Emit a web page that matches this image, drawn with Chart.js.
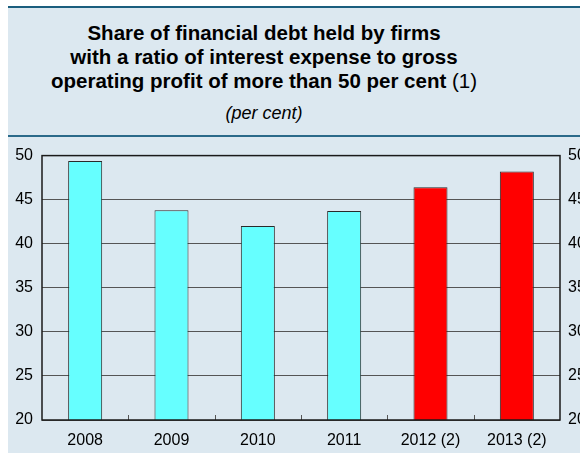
<!DOCTYPE html>
<html>
<head>
<meta charset="utf-8">
<script src="https://cdn.jsdelivr.net/npm/chart.js@4.4.0/dist/chart.umd.min.js"></script>
<style>
  html, body { margin: 0; padding: 0; background: #ffffff; }
  body { width: 580px; height: 453px; overflow: hidden; position: relative; font-family: "Liberation Sans", Arial, sans-serif; }
  #panel { position: absolute; left: 8px; top: 6px; width: 620px; height: 460px; background: #dce8f0; }
  #head { position: absolute; left: 0; top: 0; width: 620px; height: 127px; border-top: 2px solid #1b5e7e; border-bottom: 2px solid #2b6a8a; }
  #title { position: absolute; left: 0; top: 13px; width: 512px; text-align: center; font-weight: bold; font-size: 20.5px; line-height: 24px; color: #000; }
  #title span { font-weight: normal; }
  #sub { position: absolute; left: 0; top: 95px; width: 512px; text-align: center; font-style: italic; font-size: 18px; line-height: 20px; color: #000; }
  #wrap { position: absolute; left: 8px; top: 137px; }
</style>
</head>
<body>
<div id="panel">
  <div id="head">
    <div id="title">Share of financial debt held by firms<br>with a ratio of interest expense to gross<br>operating profit of more than 50 per cent <span>(1)</span></div>
    <div id="sub">(per cent)</div>
  </div>
</div>
<div id="wrap"><canvas id="chart" width="620" height="316"></canvas></div>
<script>
// years, share values and bar colours
const years = ["2008", "2009", "2010", "2011", "2012 (2)", "2013 (2)"];
const shares = [49.4, 43.8, 42.0, 43.7, 46.4, 48.2];
const barColors = ["#66ffff", "#66ffff", "#66ffff", "#66ffff", "#ff0000", "#ff0000"];
const yMin = 20, yMax = 50, yStep = 5;

const tickFont = { family: "Liberation Sans, Arial, sans-serif", size: 16 };

// frame round the plot and small inward ticks between categories
const framePlugin = {
  id: "frame",
  afterDatasetsDraw(chart) {
    const ctx = chart.ctx, a = chart.chartArea, x = chart.scales.x;
    ctx.save();
    ctx.strokeStyle = "#555";
    ctx.lineWidth = 1;
    for (let i = 0; i < years.length - 1; i++) {
      const px = Math.round((x.getPixelForTick(i) + x.getPixelForTick(i + 1)) / 2) + 0.5;
      ctx.beginPath();
      ctx.moveTo(px, a.bottom);
      ctx.lineTo(px, a.bottom - 5);
      ctx.stroke();
    }
    ctx.strokeStyle = "#1a1a1a";
    ctx.lineWidth = 1.5;
    ctx.strokeRect(a.left, a.top, a.right - a.left, a.bottom - a.top);
    ctx.restore();
  }
};

new Chart(document.getElementById("chart"), {
  type: "bar",
  data: {
    labels: years,
    datasets: [{
      data: shares,
      backgroundColor: barColors,
      borderColor: "#2a2a2a",
      borderWidth: 1,
      categoryPercentage: 1,
      barPercentage: 0.394
    }]
  },
  options: {
    responsive: false,
    animation: false,
    layout: { padding: { top: 18, right: 28, bottom: 0, left: 0 } },
    plugins: { legend: { display: false }, tooltip: { enabled: false } },
    scales: {
      x: {
        grid: { display: false },
        border: { display: false },
        ticks: { color: "#000", font: tickFont, padding: 3, maxRotation: 0 },
        afterFit(s) { s.height = 33; }
      },
      y: {
        position: "left",
        min: yMin, max: yMax,
        ticks: { stepSize: yStep, color: "#000", font: tickFont, padding: 9 },
        grid: { color: "#555", lineWidth: 1, drawTicks: false },
        border: { display: false },
        afterFit(s) { s.width = 34; }
      },
      y2: {
        position: "right",
        min: yMin, max: yMax,
        ticks: { stepSize: yStep, color: "#000", font: tickFont, padding: 8 },
        grid: { drawOnChartArea: false, drawTicks: false },
        border: { display: false },
        afterFit(s) { s.width = 40; }
      }
    }
  },
  plugins: [framePlugin]
});
</script>
</body>
</html>
